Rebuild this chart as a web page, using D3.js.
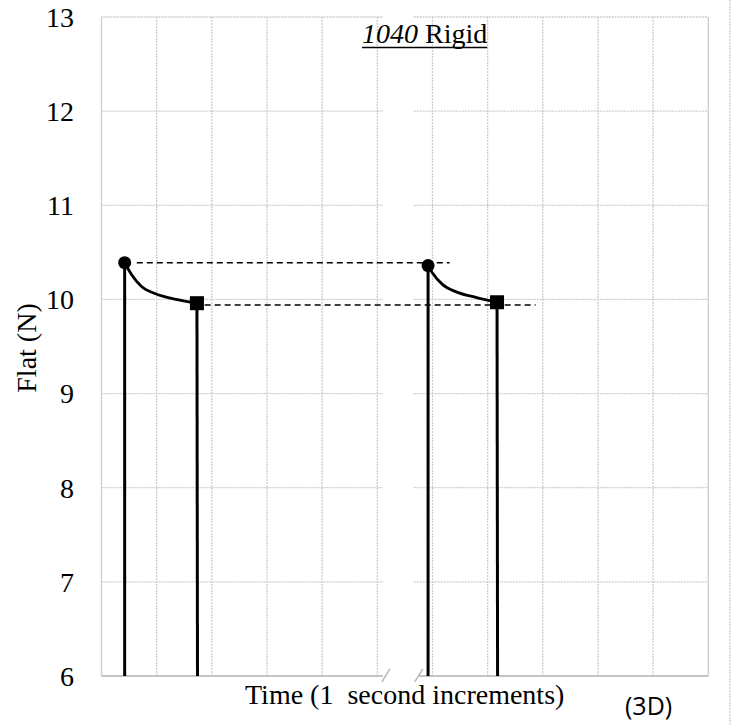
<!DOCTYPE html>
<html>
<head>
<meta charset="utf-8">
<script src="https://cdn.jsdelivr.net/npm/d3@7"></script>
<style>
  body { margin: 0; background: #fff; }
  svg { display: block; }
  text { font-family: "Liberation Serif", "Times New Roman", serif; fill: #000; }
</style>
</head>
<body>
<svg id="chart" width="733" height="725"></svg>
<script>
// force readings (N) against time (s) for the two presses
const trial1Time = [0.42, 0.42, 0.55, 0.72, 0.98, 1.35, 1.73, 1.74];
const trial1Force = [6, 10.39, 10.26, 10.14, 10.06, 10.0, 9.96, 6];
const trial2Time = [5.92, 5.92, 6.0, 6.18, 6.43, 6.8, 7.17, 7.18];
const trial2Force = [6, 10.36, 10.28, 10.16, 10.08, 10.02, 9.97, 6];

// dashed reference levels (peak and settled force)
const refLevel = [10.39, 9.94];
const refFrom = [0.64, 1.87];
const refTo = [6.31, 7.87];

const yTicks = [6, 7, 8, 9, 10, 11, 12, 13];
const xGrid = [0, 1, 2, 3, 4, 5, 6, 7, 8, 9, 10, 11];
const axisBreak = [5.1, 5.66];

const svg = d3.select('#chart');
const plotLeft = 101.5, plotRight = 708.3, plotTop = 17, plotBottom = 676;

const x = d3.scaleLinear().domain([0, 11]).range([plotLeft, plotRight]);
const y = d3.scaleLinear().domain([6, 13]).range([plotBottom, plotTop]);

const gridColor = '#cdcdcd';

// page edge on the right
svg.append('line')
    .attr('x1', 730).attr('x2', 730)
    .attr('y1', 0).attr('y2', 725)
    .attr('stroke', '#d6d6d6')
    .attr('stroke-width', 1.5)
    .attr('stroke-dasharray', '2,1');

const grid = svg.append('g').attr('class', 'grid');

grid.selectAll('line.v')
    .data(xGrid)
    .enter()
    .append('line')
    .attr('class', 'v')
    .attr('x1', d => x(d)).attr('x2', d => x(d))
    .attr('y1', y(13)).attr('y2', y(6))
    .attr('stroke', gridColor)
    .attr('stroke-width', 1.3)
    .attr('stroke-dasharray', d => (d === 0 || d === 11) ? null : '2,1');

// horizontal grid, cut where the time axis is broken
const hSegments = [];
yTicks.filter(d => d > 6).forEach(d => {
  hSegments.push({v: d, a: 0, b: axisBreak[0]});
  hSegments.push({v: d, a: axisBreak[1], b: 11});
});

grid.selectAll('line.h')
    .data(hSegments)
    .enter()
    .append('line')
    .attr('class', 'h')
    .attr('x1', d => x(d.a)).attr('x2', d => x(d.b))
    .attr('y1', d => y(d.v)).attr('y2', d => y(d.v))
    .attr('stroke', gridColor)
    .attr('stroke-width', 1.3)
    .attr('stroke-dasharray', '2,1');

// x axis line with break marks
const axisG = svg.append('g').attr('class', 'x-axis');
axisG.append('line')
    .attr('x1', x(0)).attr('x2', x(axisBreak[0]))
    .attr('y1', y(6)).attr('y2', y(6))
    .attr('stroke', '#c4c4c4').attr('stroke-width', 2);
axisG.append('line')
    .attr('x1', x(axisBreak[1]) + 5).attr('x2', x(11))
    .attr('y1', y(6)).attr('y2', y(6))
    .attr('stroke', '#c4c4c4').attr('stroke-width', 2);
axisG.selectAll('line.brk')
    .data(axisBreak)
    .enter()
    .append('line')
    .attr('class', 'brk')
    .attr('x1', (d, i) => x(d) - 1 + i * 2)
    .attr('x2', (d, i) => x(d) + 7 + i * 2)
    .attr('y1', y(6) + 6).attr('y2', y(6) - 7)
    .attr('stroke', '#bdbdbd').attr('stroke-width', 1.5);

// y tick labels
svg.append('g')
    .selectAll('text')
    .data(yTicks)
    .enter()
    .append('text')
    .attr('x', 74)
    .attr('y', d => y(d))
    .attr('dy', '0.35em')
    .attr('text-anchor', 'end')
    .style('font-size', '28px')
    .text(d => d);

// dashed reference lines
svg.append('g')
    .selectAll('line')
    .data(refLevel)
    .enter()
    .append('line')
    .attr('x1', (d, i) => x(refFrom[i]))
    .attr('x2', (d, i) => x(refTo[i]))
    .attr('y1', d => y(d)).attr('y2', d => y(d))
    .attr('stroke', '#000')
    .attr('stroke-width', 1.5)
    .attr('stroke-dasharray', '6,4');

function drawTrial(times, forces) {
  const pts = times.map((t, i) => ({t: t, f: forces[i]}));
  const last = pts.length - 1;
  const g = svg.append('g').attr('class', 'trial');

  // rise and release as straight drops
  [[pts[0], pts[1]], [pts[last - 1], pts[last]]].forEach(seg => {
    g.append('line')
        .attr('x1', x(seg[0].t)).attr('x2', x(seg[1].t))
        .attr('y1', y(seg[0].f)).attr('y2', y(seg[1].f))
        .attr('stroke', '#000')
        .attr('stroke-width', 3);
  });

  // relaxation curve
  const line = d3.line()
      .x(d => x(d.t))
      .y(d => y(d.f))
      .curve(d3.curveMonotoneX);
  g.append('path')
      .datum(pts.slice(1, last))
      .attr('d', line)
      .attr('fill', 'none')
      .attr('stroke', '#000')
      .attr('stroke-width', 2.8);

  g.append('circle')
      .attr('cx', x(pts[1].t))
      .attr('cy', y(pts[1].f))
      .attr('r', 6.5)
      .attr('fill', '#000');

  const s = 14;
  g.append('rect')
      .attr('x', x(pts[last - 1].t) - s / 2)
      .attr('y', y(pts[last - 1].f) - s / 2)
      .attr('width', s)
      .attr('height', s)
      .attr('fill', '#000');
}

drawTrial(trial1Time, trial1Force);
drawTrial(trial2Time, trial2Force);

// title
const title = svg.append('text')
    .attr('x', 362)
    .attr('y', 43)
    .style('font-size', '28px');
title.append('tspan').style('font-style', 'italic').text('1040');
title.append('tspan').text(' Rigid');
const tw = title.node().getComputedTextLength();
svg.append('line')
    .attr('x1', 362).attr('x2', 362 + tw)
    .attr('y1', 47.5).attr('y2', 47.5)
    .attr('stroke', '#000')
    .attr('stroke-width', 1.5);

// axis labels
svg.append('text')
    .attr('transform', 'translate(36, 348) rotate(-90)')
    .attr('text-anchor', 'middle')
    .style('font-size', '28px')
    .text('Flat (N)');

svg.append('text')
    .attr('x', 245)
    .attr('y', 704)
    .style('font-size', '28px')
    .style('white-space', 'pre')
    .text('Time (1  second increments)');

svg.append('text')
    .attr('x', 625)
    .attr('y', 715)
    .style('font-family', '"Open Sans", "Liberation Sans", sans-serif')
    .style('font-size', '25px')
    .text('(3D)');
</script>
</body>
</html>
